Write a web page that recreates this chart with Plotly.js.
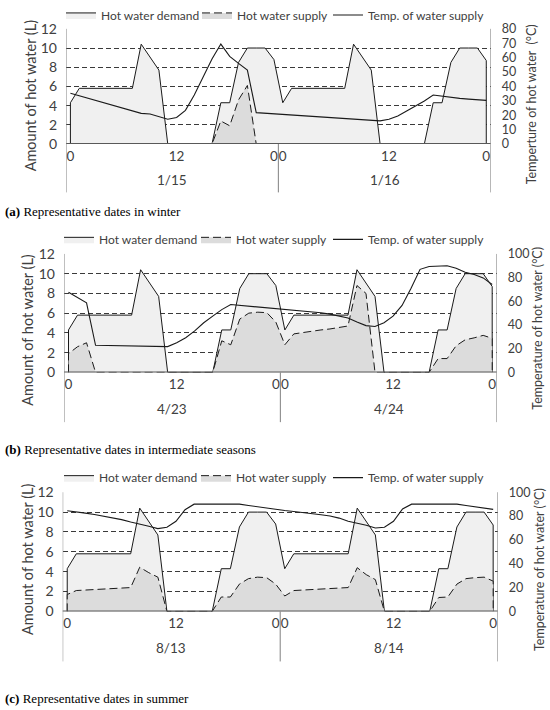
<!DOCTYPE html>
<html>
<head>
<meta charset="utf-8">
<script src="https://cdn.plot.ly/plotly-3.0.1.min.js"></script>
<style>
  html, body { margin: 0; padding: 0; background: #fff; }
  #myPlot { width: 550px; height: 710px; }
</style>
</head>
<body>
<div id="myPlot"></div>
<script>
// hour index over two days (Excel-style category axis, 0..47)
var hours = [];
for (var i = 0; i < 48; i++) hours.push(i);

// hourly hot water demand (L), same profile in every season
var demand = [4.3, 5.8, 5.8, 5.8, 5.8, 5.8, 5.8, 5.8, 10.4, 9.0, 7.7, 0, 0, 0, 0, 0, 0, 4.3, 4.3, 8.5, 10, 10, 10, 8.8,
              4.3, 5.8, 5.8, 5.8, 5.8, 5.8, 5.8, 5.8, 10.4, 9.0, 7.7, 0, 0, 0, 0, 0, 0, 4.3, 4.3, 8.5, 10, 10, 10, 8.7];

// hot water supply (L)
var supplyWinter = [0, 0, 0, 0, 0, 0, 0, 0, 0, 0, 0, 0, 0, 0, 0, 0, 0, 2.4, 1.9, 4.6, 6.1, 0, 0, 0,
                    0, 0, 0, 0, 0, 0, 0, 0, 0, 0, 0, 0, 0, 0, 0, 0, 0, 0, 0, 0, 0, 0, 0, 0];
var supplySpring = [1.9, 2.6, 3.0, 0, 0, 0, 0, 0, 0, 0, 0, 0, 0, 0, 0, 0, 0, 3.2, 2.8, 5.4, 6.0, 6.1, 6.05, 5.1,
                    2.8, 3.9, 4.05, 4.15, 4.3, 4.4, 4.55, 4.7, 8.8, 8.0, 0, 0, 0, 0, 0, 0, 0, 1.4, 1.4, 2.7, 3.3, 3.5, 3.75, 3.45];
var supplySummer = [1.7, 2.1, 2.15, 2.2, 2.25, 2.3, 2.35, 2.4, 4.45, 3.9, 3.45, 0, 0, 0, 0, 0, 0, 1.45, 1.45, 2.75, 3.3, 3.45, 3.4, 2.75,
                    1.55, 2.1, 2.15, 2.2, 2.25, 2.3, 2.35, 2.4, 4.4, 3.7, 3.2, 0, 0, 0, 0, 0, 0, 1.4, 1.45, 2.75, 3.3, 3.4, 3.45, 3.05];

// temperature of water supply (°C)
var tempWinter = [35.2, 33.4, 31.7, 29.9, 28.2, 26.4, 24.7, 23, 21.3, 20.8, 19.1, 17.2, 18.4, 23.4, 34, 47, 59, 69.4, 60.9, 56, 51.3, 21.8, 21.4, 20.9,
                  20.7, 20.3, 19.9, 19.5, 19.1, 18.6, 18.2, 17.8, 17.4, 17, 16.5, 16.1, 17.2, 19.5, 23, 26.4, 29.9, 34, 33.1, 32.4, 31.7, 31.2, 30.8, 30.3];
var tempSpring = [67.6, 63.2, 58.7, 22.9, 22.8, 22.7, 22.6, 22.5, 22.3, 22.1, 22, 21.8, 25.1, 29.3, 35, 41.9, 47.5, 53, 57.3, 56.6, 56, 55.3, 54.7, 54,
                  53.4, 52.8, 52, 51.2, 50.3, 49.2, 47.8, 46, 42.5, 39.5, 38.8, 41.9, 47.5, 56.5, 71, 87, 89.4, 90, 90, 88, 84.6, 82.6, 79.8, 74.2];
var tempSummer = [84.5, 83.7, 82.5, 81.3, 80, 78.7, 77, 75, 73.5, 71.5, 69.5, 70.6, 75.6, 85.3, 90, 90, 90, 90, 90, 90, 88.9, 87.8, 86.7, 85.3,
                  84.7, 83.9, 83.1, 82.3, 81.1, 80, 78.3, 75.6, 74.2, 72.3, 70, 70.6, 75.6, 86, 90, 90, 90, 90, 90, 90, 88.9, 87.8, 86.7, 85.6];

var tickPos = [0, 12, 23, 24, 36, 47];
var tickText = ["0", "12", "0", "0", "12", "0"];
var datesWinter = ["1/15", "1/16"];
var datesSpring = ["4/23", "4/24"];
var datesSummer = ["8/13", "8/14"];
var captions = ["<b>(a)</b> Representative dates in winter",
                "<b>(b)</b> Representative dates in intermediate seasons",
                "<b>(c)</b> Representative dates in summer"];

var font = "Lato, 'Open Sans', sans-serif";
var W = 550, H = 710;

// close the area outline down to zero at both ends
function closed(vals) {
  return {x: [hours[0]].concat(hours, [hours[hours.length - 1]]), y: [0].concat(vals, [0])};
}

// leg: [text start item 1, text start item 2, text start item 3, centre y]
var panels = [
  {supply: supplyWinter, temp: tempWinter, dates: datesWinter, tmax: 80, tdt: 10,
   ttitle: "Temperture of hot water&nbsp;&nbsp;(°C)", px: [66, 490.7], py: [24, 140],
   leg: [99, 236, 366, 10], cap: 208, lt: [30, 91], rt: [531, 100]},
  {supply: supplySpring, temp: tempSpring, dates: datesSpring, tmax: 100, tdt: 20,
   ttitle: "Temperature of hot water (°C)", px: [64, 496.7], py: [250.7, 370],
   leg: [97, 235, 366, 236], cap: 448, lt: [28, 327], rt: [538, 326]},
  {supply: supplySummer, temp: tempSummer, dates: datesSummer, tmax: 100, tdt: 20,
   ttitle: "Temperature of hot water (°C)", px: [62.7, 497.7], py: [490.7, 610.7],
   leg: [97, 235, 366, 476], cap: 698, lt: [27, 558], rt: [540, 569]}
];

var data = [];
var layout = {
  width: W, height: H,
  margin: {l: 0, r: 0, t: 0, b: 0},
  paper_bgcolor: "#fff", plot_bgcolor: "rgba(0,0,0,0)",
  font: {family: font, size: 13, color: "#404040"},
  showlegend: true,
  shapes: [], annotations: []
};

function legName(n) { return n === 1 ? "legend" : "legend" + n; }

panels.forEach(function (p, k) {
  var xa = k === 0 ? "x" : "x" + (k + 1);
  var yl = k === 0 ? "y" : "y" + (2 * k + 1);
  var yr = "y" + (2 * k + 2);
  var legA = legName(2 * k + 1), legB = legName(2 * k + 2);
  var d = closed(demand), s = closed(p.supply);

  data.push({x: d.x, y: d.y, xaxis: xa, yaxis: yl, type: "scatter", mode: "lines",
    fill: "tozeroy", fillcolor: "#f0f0f0", line: {color: "#1a1a1a", width: 1},
    name: "Hot water demand", legend: legA, hoverinfo: "skip"});
  data.push({x: s.x, y: s.y, xaxis: xa, yaxis: yl, type: "scatter", mode: "lines",
    fill: "tozeroy", fillcolor: "#dcdcdc", line: {color: "#1a1a1a", width: 1, dash: "8px,4px"},
    name: "Hot water supply", legend: legA, hoverinfo: "skip"});
  data.push({x: hours, y: p.temp, xaxis: xa, yaxis: yr, type: "scatter", mode: "lines",
    line: {color: "#1a1a1a", width: 1.1},
    name: "Temp. of water supply", legend: legB, hoverinfo: "skip"});

  var xdom = [p.px[0] / W, p.px[1] / W];
  var ydom = [1 - p.py[1] / H, 1 - p.py[0] / H];
  var xKey = k === 0 ? "xaxis" : "xaxis" + (k + 1);
  var ylKey = k === 0 ? "yaxis" : "yaxis" + (2 * k + 1);
  var yrKey = "yaxis" + (2 * k + 2);

  layout[xKey] = {domain: xdom, anchor: yl, range: [-0.5, 47.5],
    tickmode: "array", tickvals: tickPos, ticktext: tickText, ticks: "", tickangle: 0,
    showgrid: false, zeroline: false, showline: false,
    ticklabelstandoff: 2, tickfont: {size: 13.5, color: "#404040"}};
  layout[ylKey] = {domain: ydom, anchor: xa, range: [0, 12], dtick: 2, ticks: "",
    showgrid: true, gridcolor: "#3a3a3a", gridwidth: 1, griddash: "5px,3px",
    zeroline: false, showline: false, ticklabelstandoff: 8,
    tickfont: {size: 14, color: "#404040"}};
  layout[yrKey] = {domain: ydom, anchor: xa, overlaying: yl, side: "right",
    range: [0, p.tmax], dtick: p.tdt, ticks: "", showgrid: false, zeroline: false,
    showline: false, ticklabelstandoff: 10, tickfont: {size: 12.5, color: "#404040"}};

  var legBase = {orientation: "h", xanchor: "left", y: 1 - p.leg[3] / H, yanchor: "middle",
    bgcolor: "rgba(0,0,0,0)", font: {size: 12, color: "#404040"}, itemwidth: 30,
    traceorder: "normal"};
  layout[legA] = Object.assign({}, legBase, {x: (p.leg[0] - 38) / W,
    entrywidth: p.leg[1] - p.leg[0] - 46, entrywidthmode: "pixels"});
  layout[legB] = Object.assign({}, legBase, {x: (p.leg[2] - 38) / W});

  // bottom axis line drawn above the traces
  layout.shapes.push({type: "line", xref: xa + " domain", yref: yl, x0: 0, x1: 1, y0: 0, y1: 0,
    line: {color: "#595959", width: 2}});
  // day separators of the category axis
  [-0.5, 23.5, 47.5].forEach(function (xv, j) {
    layout.shapes.push({type: "line", xref: xa, yref: yl + " domain",
      x0: xv, x1: xv, y0: -0.42, y1: j === 1 ? 0 : 1,
      line: {color: "#808080", width: 1}});
  });
  p.dates.forEach(function (dt, j) {
    layout.annotations.push({xref: xa, yref: yl + " domain", x: 11.5 + 24 * j, y: -0.31,
      yanchor: "middle", text: dt, showarrow: false, font: {size: 13.5, color: "#404040"}});
  });
  // axis titles
  layout.annotations.push({xref: "paper", yref: "paper", x: p.lt[0] / W, y: 1 - p.lt[1] / H,
    xanchor: "center", yanchor: "middle", textangle: -90, showarrow: false,
    text: "Amount of hot water (L)", font: {size: 14.5, color: "#404040"}});
  layout.annotations.push({xref: "paper", yref: "paper", x: p.rt[0] / W, y: 1 - p.rt[1] / H,
    xanchor: "center", yanchor: "middle", textangle: -90, showarrow: false,
    text: p.ttitle, font: {size: 12.5, color: "#404040"}});
  layout.annotations.push({xref: "paper", yref: "paper", x: 3 / W, y: 1 - p.cap / H,
    xanchor: "left", yanchor: "middle", text: captions[k], showarrow: false,
    font: {family: "'Liberation Serif', 'DejaVu Serif', serif", size: 13, color: "#000"}});
});

Plotly.newPlot("myPlot", data, layout, {staticPlot: true});
</script>
</body>
</html>
